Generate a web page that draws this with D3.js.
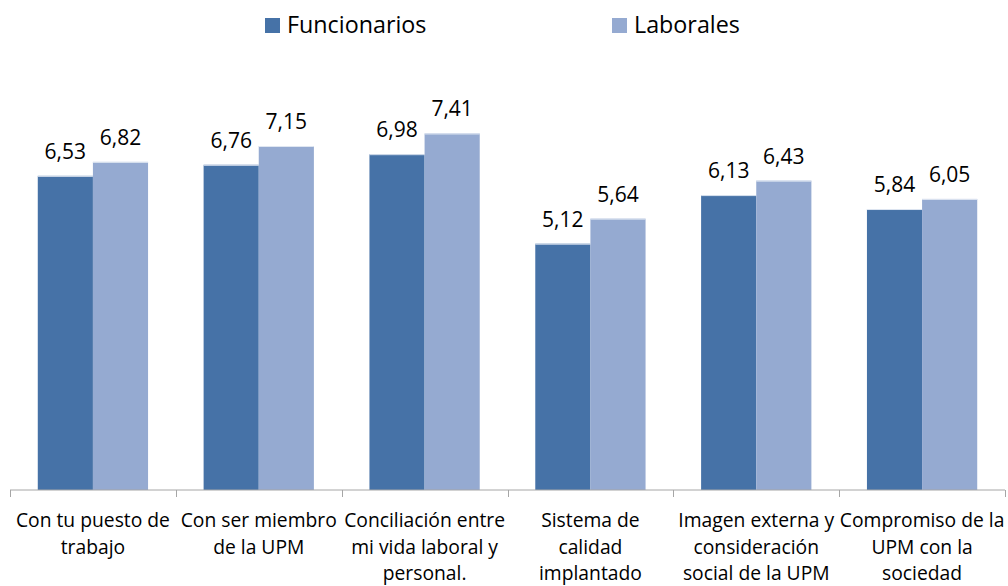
<!DOCTYPE html>
<html>
<head>
<meta charset="utf-8">
<script src="https://cdn.jsdelivr.net/npm/d3@7"></script>
<style>
  html, body { margin: 0; padding: 0; background: #ffffff; }
  svg { display: block; font-family: "Open Sans", "Noto Sans", sans-serif; }
</style>
</head>
<body>
<svg id="chart" width="1008" height="586"></svg>
<script>
// Satisfaction scores by aspect, split by staff type
const categories = [
  ["Con tu puesto de", "trabajo"],
  ["Con ser miembro", "de la UPM"],
  ["Conciliación entre", "mi vida laboral y", "personal."],
  ["Sistema de", "calidad", "implantado"],
  ["Imagen externa y", "consideración", "social de la UPM"],
  ["Compromiso de la", "UPM con la", "sociedad"]
];
const seriesNames = ["Funcionarios", "Laborales"];
const funcionarios = [6.53, 6.76, 6.98, 5.12, 6.13, 5.84];
const laborales = [6.82, 7.15, 7.41, 5.64, 6.43, 6.05];
const colors = ["#4672a7", "#95aad1"];

const svg = d3.select("#chart");
const baseY = 490, topY = 57;

const x0 = d3.scaleBand()
  .domain(d3.range(categories.length))
  .range([10, 1005])
  .paddingInner(0)
  .paddingOuter(0);

const groupW = x0.bandwidth() * 0.665;
const x1 = d3.scaleBand()
  .domain(seriesNames)
  .range([(x0.bandwidth() - groupW) / 2, (x0.bandwidth() + groupW) / 2]);

const y = d3.scaleLinear().domain([0, 9]).range([baseY, topY]);

const fmt = v => d3.format(".2f")(v).replace(".", ",");

const rows = categories.map((c, i) => ({
  i,
  values: [
    { key: seriesNames[0], v: funcionarios[i], color: colors[0] },
    { key: seriesNames[1], v: laborales[i], color: colors[1] }
  ]
}));

const groups = svg.append("g").selectAll("g")
  .data(rows).join("g")
  .attr("transform", d => `translate(${x0(d.i)},0)`);

groups.selectAll("rect")
  .data(d => d.values).join("rect")
  .attr("x", d => x1(d.key))
  .attr("y", d => y(d.v))
  .attr("width", x1.bandwidth())
  .attr("height", d => y(0) - y(d.v))
  .attr("fill", d => d.color);

// thin light edge on bar tops
groups.selectAll("line.edge")
  .data(d => d.values).join("line")
  .attr("class", "edge")
  .attr("x1", d => x1(d.key))
  .attr("x2", d => x1(d.key) + x1.bandwidth())
  .attr("y1", d => y(d.v) + 0.5)
  .attr("y2", d => y(d.v) + 0.5)
  .attr("stroke", "#dfe6f1")
  .attr("stroke-width", 1);

groups.selectAll("text.val")
  .data(d => d.values).join("text")
  .attr("class", "val")
  .attr("x", d => x1(d.key) + x1.bandwidth() / 2)
  .attr("y", d => y(d.v) - 17)
  .attr("text-anchor", "middle")
  .attr("font-size", 21)
  .attr("fill", "#000")
  .text(d => fmt(d.v));

// category axis
const axis = d3.axisBottom(x0).tickSize(0).tickFormat("");
const axG = svg.append("g").attr("transform", `translate(0,${baseY})`).call(axis);
axG.select(".domain").attr("stroke", "#a6a6a6").attr("d", `M10,0H1005`);

const bounds = d3.range(categories.length + 1).map(i => i === categories.length ? 1005 : x0(i));
axG.selectAll("line.sep")
  .data(bounds).join("line")
  .attr("class", "sep")
  .attr("x1", d => Math.round(d) + 0.5)
  .attr("x2", d => Math.round(d) + 0.5)
  .attr("y1", 0).attr("y2", 7)
  .attr("stroke", "#a6a6a6");

const catLabels = svg.append("g").selectAll("text")
  .data(categories).join("text")
  .attr("text-anchor", "middle")
  .attr("font-size", 19.3)
  .attr("fill", "#000")
  .attr("transform", (d, i) => `translate(${x0(i) + x0.bandwidth() / 2},527)`);
catLabels.selectAll("tspan")
  .data(d => d).join("tspan")
  .attr("x", 0)
  .attr("y", (d, j) => j * 26.5)
  .text(d => d);

// legend
const legendX = [265, 612];
const legend = svg.append("g").selectAll("g")
  .data(seriesNames).join("g")
  .attr("transform", (d, i) => `translate(${legendX[i]},18)`);
legend.append("rect")
  .attr("width", 15).attr("height", 15)
  .attr("fill", (d, i) => colors[i]);
legend.append("text")
  .attr("x", 22).attr("y", 15)
  .attr("font-size", 23.3)
  .attr("fill", "#000")
  .text(d => d);
</script>
</body>
</html>
